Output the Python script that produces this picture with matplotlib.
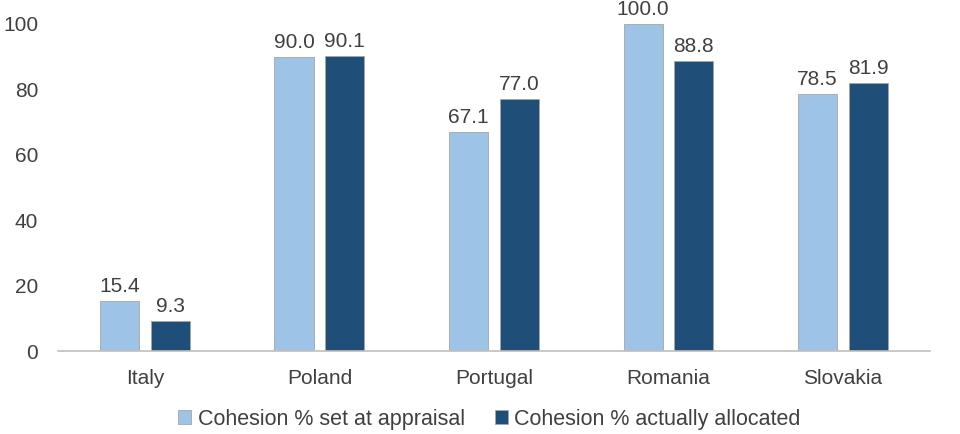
import matplotlib.pyplot as plt
import numpy as np

countries = ['Italy', 'Poland', 'Portugal', 'Romania', 'Slovakia']
set_at_appraisal = [15.4, 90.0, 67.1, 100.0, 78.5]
actually_allocated = [9.3, 90.1, 77.0, 88.8, 81.9]

light = '#9DC3E6'
dark = '#1F4E79'
txt = '#404040'

plt.rcParams['font.family'] = ['Liberation Sans', 'DejaVu Sans']

fig = plt.figure(figsize=(9.6, 4.34), dpi=100)
ax = fig.add_axes([0.060, 0.191, 0.909, 0.754])

x = np.arange(len(countries))
w = 0.225
off = (w + 0.065) / 2

b1 = ax.bar(x - off, set_at_appraisal, w, color=light, edgecolor='#A6A6A6', linewidth=0.6,
            label='Cohesion % set at appraisal')
b2 = ax.bar(x + off, actually_allocated, w, color=dark, edgecolor='#A6A6A6', linewidth=0.6,
            label='Cohesion % actually allocated')

for bars in (b1, b2):
    for r in bars:
        h = r.get_height()
        ax.text(r.get_x() + r.get_width() / 2, h + 1.5, '%.1f' % h,
                ha='center', va='bottom', fontsize=15, color=txt)

ax.set_xlim(-0.5, len(countries) - 0.5)
ax.set_ylim(0, 100)
ax.set_yticks(range(0, 101, 20))
ax.set_xticks(x)
ax.set_xticklabels(countries)
ax.tick_params(axis='both', length=0, labelsize=15, colors=txt)
ax.tick_params(axis='y', pad=14)
ax.tick_params(axis='x', pad=13)

for s in ['top', 'right', 'left']:
    ax.spines[s].set_visible(False)
ax.spines['bottom'].set_color('#BFBFBF')
ax.spines['bottom'].set_linewidth(1.2)

fig.legend(loc='lower center', bbox_to_anchor=(0.51, -0.035), ncol=2, frameon=False,
           fontsize=15.5, labelcolor=txt, handlelength=0.6, handleheight=0.6,
           handletextpad=0.3, columnspacing=1.4)

fig.savefig('out.png', dpi=100)
